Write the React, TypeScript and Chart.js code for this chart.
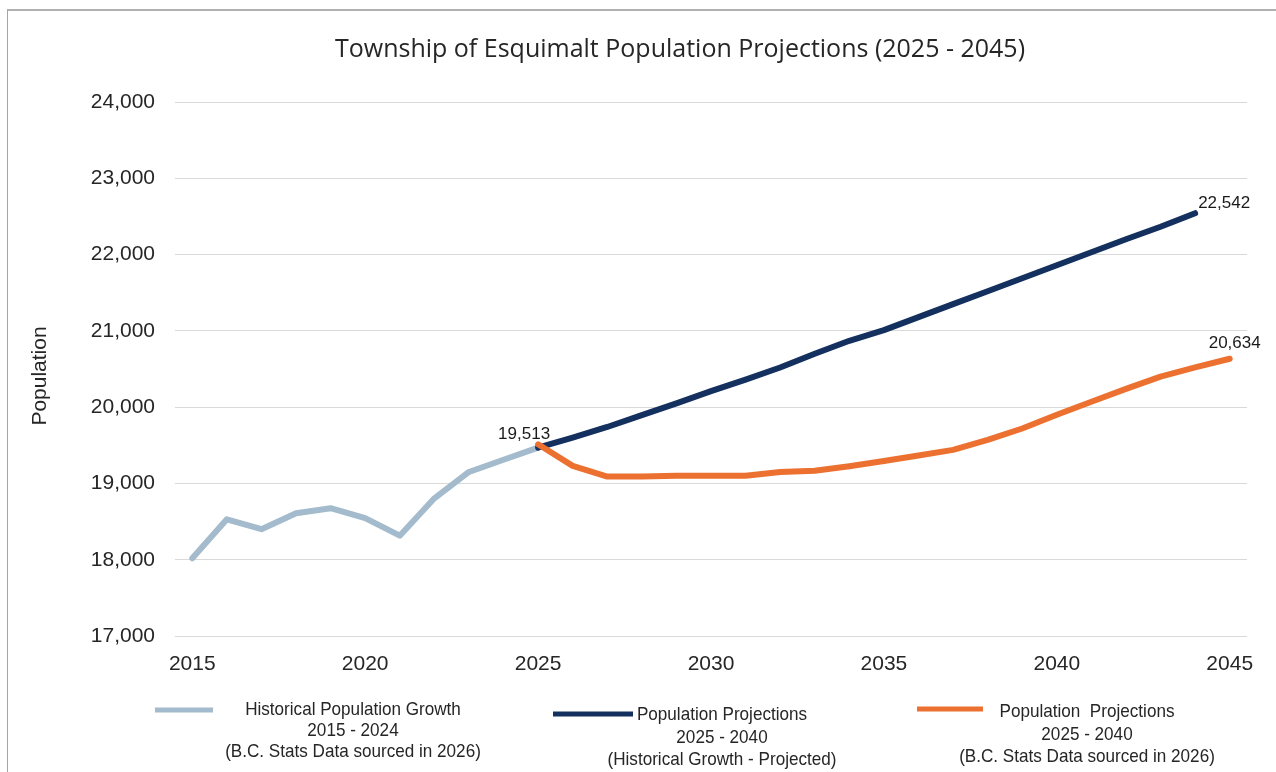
import React, { useEffect, useRef } from 'react';
import { Chart, registerables } from 'chart.js';

Chart.register(...registerables);

const years = [
  '2015', '2016', '2017', '2018', '2019', '2020', '2021', '2022', '2023', '2024',
  '2025', '2026', '2027', '2028', '2029', '2030', '2031', '2032', '2033', '2034',
  '2035', '2036', '2037', '2038', '2039', '2040', '2041', '2042', '2043', '2044', '2045',
];

// 2015 - 2025
const historical = [18020, 18530, 18400, 18610, 18675, 18545, 18315, 18805, 19150, 19310, 19470];
// 2025 - 2044
const trendProjection = [
  19470, 19600, 19740, 19895, 20050, 20210, 20360, 20520, 20700, 20870,
  21010, 21180, 21350, 21520, 21690, 21860, 22030, 22200, 22365, 22542,
];
// 2025 - 2045
const bcStatsProjection = [
  19513, 19230, 19090, 19090, 19100, 19100, 19100, 19150, 19165, 19225,
  19295, 19365, 19440, 19570, 19720, 19900, 20070, 20240, 20400, 20520, 20634,
];

const yTicks = [17000, 18000, 19000, 20000, 21000, 22000, 23000, 24000];

const titleText = 'Township of Esquimalt Population Projections (2025 - 2045)';
const yTitle = 'Population';

const legendEntries = [
  { lines: ['Historical Population Growth', '2015 - 2024', '(B.C. Stats Data sourced in 2026)'] },
  { lines: ['Population Projections', '2025 - 2040', '(Historical Growth - Projected)'] },
  { lines: ['Population  Projections', '2025 - 2040', '(B.C. Stats Data sourced in 2026)'] },
];

const COLORS = {
  hist: '#a3bbcc',
  trend: '#14305f',
  bc: '#ec7131',
};

function placeSeries(startYear: string, values: number[]): (number | null)[] {
  const start = years.indexOf(startYear);
  return years.map((_, i) => {
    const j = i - start;
    return j >= 0 && j < values.length ? values[j] : null;
  });
}

const fmt = (v: number) => v.toLocaleString('en-US');

export default function App() {
  const ref = useRef<HTMLCanvasElement | null>(null);

  useEffect(() => {
    if (!ref.current) return;
    const FONT = '"Liberation Sans", Arial, sans-serif';

    const extras = {
      id: 'extras',
      afterDatasetsDraw(chart: any) {
        const ctx = chart.ctx;
        ctx.save();
        // data labels
        ctx.font = `17px ${FONT}`;
        ctx.fillStyle = '#1a1a1a';
        ctx.textAlign = 'center';
        ctx.textBaseline = 'middle';
        const bcMeta = chart.getDatasetMeta(2);
        const trMeta = chart.getDatasetMeta(1);
        const bcStart = years.indexOf('2025');
        const p0 = bcMeta.data[bcStart];
        ctx.fillText(fmt(bcStatsProjection[0]), p0.x - 14, p0.y - 10);
        const trEnd = bcStart + trendProjection.length - 1;
        const p1 = trMeta.data[trEnd];
        ctx.fillText(fmt(trendProjection[trendProjection.length - 1]), p1.x + 29, p1.y - 10);
        const bcEnd = bcStart + bcStatsProjection.length - 1;
        const p2 = bcMeta.data[bcEnd];
        ctx.fillText(fmt(bcStatsProjection[bcStatsProjection.length - 1]), p2.x + 5, p2.y - 15);
        ctx.restore();
      },
      afterDraw(chart: any) {
        const ctx = chart.ctx;
        ctx.save();
        // title
        ctx.font = `25px "Open Sans", ${FONT}`;
        ctx.fillStyle = '#262626';
        ctx.textAlign = 'center';
        ctx.textBaseline = 'middle';
        ctx.fillText(titleText, 680, 50);

        // y axis title
        ctx.save();
        ctx.translate(40, 376);
        ctx.rotate(-Math.PI / 2);
        ctx.font = `21px ${FONT}`;
        ctx.fillText(yTitle, 0, 0);
        ctx.restore();

        // legend
        const layout = [
          { color: COLORS.hist, sx: 155, ex: 213, sy: 710, cx: 353, ys: [710, 731, 752] },
          { color: COLORS.trend, sx: 553, ex: 633, sy: 714, cx: 722, ys: [715, 738, 760] },
          { color: COLORS.bc, sx: 917, ex: 983, sy: 709, cx: 1087, ys: [712, 735, 757] },
        ];
        layout.forEach((l, i) => {
          ctx.strokeStyle = l.color;
          ctx.lineWidth = 5;
          ctx.lineCap = 'butt';
          ctx.beginPath();
          ctx.moveTo(l.sx, l.sy);
          ctx.lineTo(l.ex, l.sy);
          ctx.stroke();
          ctx.font = `19px ${FONT}`;
          ctx.fillStyle = '#262626';
          ctx.textAlign = 'center';
          ctx.textBaseline = 'middle';
          legendEntries[i].lines.forEach((t, k) => {
            ctx.save();
            ctx.translate(l.cx, l.ys[k]);
            ctx.scale(0.9, 1);
            ctx.fillText(t, 0, 0);
            ctx.restore();
          });
        });
        ctx.restore();
      },
    };

    const common = {
      fill: false,
      borderWidth: 6,
      borderCapStyle: 'round',
      borderJoinStyle: 'round',
      pointRadius: 0,
      pointHoverRadius: 0,
      tension: 0,
      spanGaps: false,
    };

    const chart = new Chart(ref.current, {
      type: 'line',
      data: {
        labels: years,
        datasets: [
          { ...common, label: legendEntries[0].lines.join(' '), data: placeSeries('2015', historical), borderColor: COLORS.hist, backgroundColor: COLORS.hist, order: 3 },
          { ...common, label: legendEntries[1].lines.join(' '), data: placeSeries('2025', trendProjection), borderColor: COLORS.trend, backgroundColor: COLORS.trend, order: 2 },
          { ...common, label: legendEntries[2].lines.join(' '), data: placeSeries('2025', bcStatsProjection), borderColor: COLORS.bc, backgroundColor: COLORS.bc, order: 1 },
        ],
      } as any,
      options: {
        responsive: false,
        animation: false,
        devicePixelRatio: 1,
        layout: { padding: { top: 102, bottom: 95, left: 8, right: 29 } },
        plugins: {
          legend: { display: false },
          title: { display: false },
          tooltip: { enabled: false },
        },
        scales: {
          x: {
            type: 'category',
            offset: true,
            grid: { display: false, drawTicks: false },
            border: { display: false },
            afterFit: (scale: any) => {
              scale.height = 41;
            },
            ticks: {
              autoSkip: false,
              maxRotation: 0,
              padding: 16,
              color: '#262626',
              font: { size: 21, family: FONT },
              callback: function (this: any, _v: any, i: number) {
                const y = years[i];
                return Number(y) % 5 === 0 ? y : '';
              },
            },
          },
          y: {
            min: yTicks[0],
            max: yTicks[yTicks.length - 1],
            afterBuildTicks: (scale: any) => {
              scale.ticks = yTicks.map((v) => ({ value: v }));
            },
            afterFit: (scale: any) => {
              scale.width = 167;
            },
            grid: { color: '#d9d9d9', lineWidth: 1, drawTicks: false },
            border: { display: false },
            ticks: {
              padding: 20,
              color: '#262626',
              font: { size: 21, family: FONT },
              callback: (v: any) => fmt(Number(v)),
            },
          },
        },
      } as any,
      plugins: [extras],
    });
    return () => chart.destroy();
  }, []);

  return (
    <div style={{ position: 'fixed', left: 0, top: 0, width: 1276, height: 772, background: '#fff', overflow: 'hidden' }}>
      <div
        style={{
          position: 'absolute',
          left: 7,
          top: 9,
          width: 1269,
          height: 763,
          borderTop: '2px solid #b0b0b0',
          borderLeft: '1px solid #a6a6a6',
          boxSizing: 'border-box',
        }}
      />
      <canvas ref={ref} width={1276} height={772} style={{ position: 'absolute', left: 0, top: 0, width: 1276, height: 772 }} />
    </div>
  );
}
